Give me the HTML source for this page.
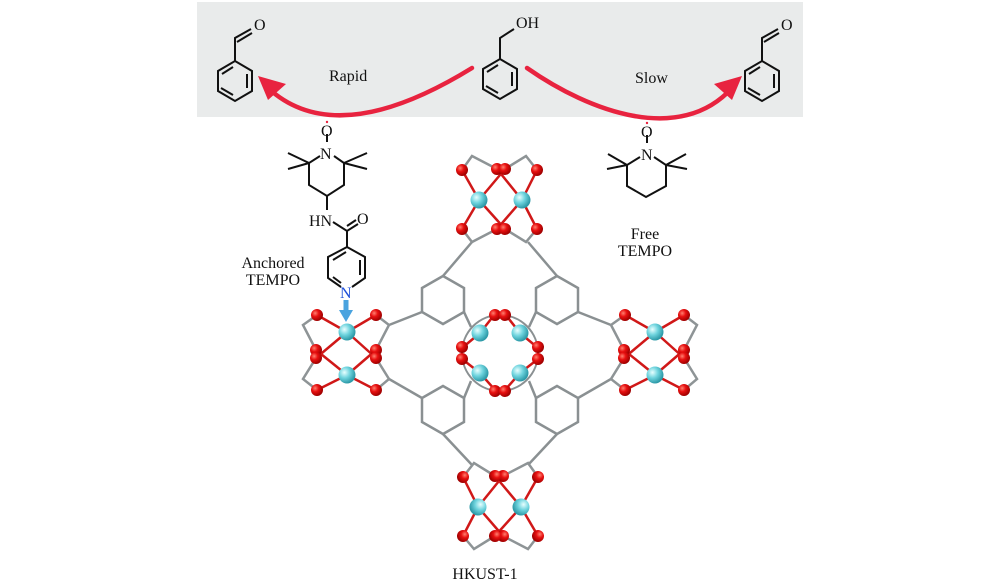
<!DOCTYPE html>
<html><head><meta charset="utf-8"><style>
html,body{margin:0;padding:0;background:#fff;}
svg, svg text{font-family:"Liberation Serif","Times New Roman",serif;}
svg{display:block;}
</style></head><body>
<svg width="1000" height="583" viewBox="0 0 1000 583" xmlns="http://www.w3.org/2000/svg" font-family="Liberation Serif, serif">
<defs>
<radialGradient id="rO" cx="35%" cy="35%" r="65%"><stop offset="0" stop-color="#ff8070"/><stop offset="0.45" stop-color="#e81010"/><stop offset="1" stop-color="#a00000"/></radialGradient>
<radialGradient id="rC" cx="35%" cy="35%" r="65%"><stop offset="0" stop-color="#e8ffff"/><stop offset="0.5" stop-color="#6fd4de"/><stop offset="1" stop-color="#2e9aa8"/></radialGradient>
<g id="pw">
  <g stroke="#8e9496" stroke-width="2.5" fill="none">
    <polyline points="-30,-38 -44,-28 -31,-3"/>
    <polyline points="-31,5 -44,26 -30,37"/>
    <polyline points="29,-38 42,-28 29,-3"/>
    <polyline points="29,5 42,26 29,37"/>
  </g>
  <g stroke="#d01818" stroke-width="2.5">
    <line x1="0" y1="-21" x2="-30" y2="-38"/><line x1="0" y1="-21" x2="29" y2="-38"/>
    <line x1="0" y1="-21" x2="-31" y2="5"/><line x1="0" y1="-21" x2="29" y2="5"/>
    <line x1="0" y1="22" x2="-30" y2="37"/><line x1="0" y1="22" x2="29" y2="37"/>
    <line x1="0" y1="22" x2="-31" y2="-3"/><line x1="0" y1="22" x2="29" y2="-3"/>
  </g>
  <g fill="url(#rO)">
    <circle cx="-30" cy="-38" r="6"/><circle cx="29" cy="-38" r="6"/>
    <circle cx="-31" cy="-3" r="6"/><circle cx="-31" cy="5" r="6"/>
    <circle cx="29" cy="-3" r="6"/><circle cx="29" cy="5" r="6"/>
    <circle cx="-30" cy="37" r="6"/><circle cx="29" cy="37" r="6"/>
  </g>
  <g fill="url(#rC)"><circle cx="0" cy="-21" r="8.5"/><circle cx="0" cy="22" r="8.5"/></g>
</g>
</defs>

<rect x="197" y="2" width="606" height="115" fill="#e9ebeb"/>

<g stroke="#111" stroke-width="2" fill="none">
  <polygon points="235,61 252,71 252,91 235,101 218,91 218,71"/>
  <line x1="247" y1="74" x2="247" y2="88"/><line x1="222" y1="74" x2="233" y2="67"/><line x1="233" y1="95" x2="221" y2="88"/>
  <polyline points="235,61 235,38 251,29"/><line x1="237" y1="42" x2="252" y2="33"/>
  <polygon points="500,59 517,69 517,89 500,99 483,89 483,69"/>
  <line x1="512" y1="72" x2="512" y2="86"/><line x1="487" y1="72" x2="498" y2="65"/><line x1="498" y1="93" x2="486" y2="86"/>
  <polyline points="500,59 500,38 514,29"/>
  <polygon points="762,61 779,71 779,91 762,101 745,91 745,71"/>
  <line x1="774" y1="74" x2="774" y2="88"/><line x1="749" y1="74" x2="760" y2="67"/><line x1="760" y1="95" x2="748" y2="88"/>
  <polyline points="762,61 762,38 778,29"/><line x1="764" y1="42" x2="779" y2="33"/>
</g>
<g font-size="16" fill="#111" font-family="Liberation Serif, serif">
  <text x="254" y="30">O</text>
  <text x="516" y="28">OH</text>
  <text x="781" y="30">O</text>
  <text x="329" y="81">Rapid</text>
  <text x="635" y="83">Slow</text>
</g>

<g stroke="#e8233f" stroke-width="4.5" fill="none" stroke-linecap="round">
  <path d="M472,68 C420,100 330,145 268,88"/>
  <path d="M527,68 C590,112 680,145 732,88"/>
</g>
<polygon points="258,76 286,84 268,100" fill="#e8233f"/>
<polygon points="742,76 714,84 732,100" fill="#e8233f"/>

<g stroke="#111" stroke-width="2" fill="none">
  <line x1="327" y1="134" x2="327" y2="142"/>
  <polyline points="320,156 309,163 309,185 327,196 344,185 344,163 334,156"/>
  <line x1="309" y1="163" x2="288" y2="153"/><line x1="309" y1="163" x2="288" y2="169"/>
  <line x1="344" y1="163" x2="367" y2="153"/><line x1="344" y1="163" x2="367" y2="169"/>
  <line x1="327" y1="196" x2="327" y2="210"/>
  <polyline points="333,222 347,231 358,224"/><line x1="347" y1="226" x2="356" y2="220"/>
  <line x1="347" y1="231" x2="347" y2="247"/>
  <polyline points="347,247 365,257 365,278 352,287"/>
  <polyline points="341,287 328,278 328,257 347,247"/>
  <line x1="360" y1="260" x2="360" y2="275"/><line x1="333" y1="260" x2="346" y2="252"/><line x1="333" y1="277" x2="341" y2="283"/>
</g>
<g font-size="16" fill="#111" font-family="Liberation Serif, serif">
  <text x="321" y="136">O</text>
  <text x="320" y="159">N</text>
  <text x="309" y="226">HN</text>
  <text x="357" y="224">O</text>
  <text x="273" y="268" text-anchor="middle">Anchored</text>
  <text x="273" y="285" text-anchor="middle">TEMPO</text>
</g>
<circle cx="327" cy="122" r="1.2" fill="#e8233f"/>
<text x="340" y="298" font-size="16" fill="#1e4fd8" font-family="Liberation Serif, serif">N</text>
<g fill="#4aa3df"><rect x="343.5" y="300" width="5" height="12"/><polygon points="339,310 353,310 346,322"/></g>

<g stroke="#111" stroke-width="2" fill="none">
  <line x1="647" y1="135" x2="647" y2="143"/>
  <polyline points="640,157 627,165 627,186 646,197 666,186 666,165 654,157"/>
  <line x1="627" y1="165" x2="608" y2="154"/><line x1="627" y1="165" x2="607" y2="169"/>
  <line x1="666" y1="165" x2="686" y2="154"/><line x1="666" y1="165" x2="687" y2="169"/>
</g>
<g font-size="16" fill="#111" font-family="Liberation Serif, serif">
  <text x="641" y="137">O</text>
  <text x="641" y="160">N</text>
  <text x="645" y="239" text-anchor="middle">Free</text>
  <text x="645" y="256" text-anchor="middle">TEMPO</text>
</g>
<circle cx="647" cy="123" r="1.2" fill="#e8233f"/>

<g stroke="#8a9092" stroke-width="2.5" fill="none">
  <polygon points="443,276 464,288 464,312 443,324 422,312 422,288"/>
  <polygon points="557,276 578,288 578,312 557,324 536,312 536,288"/>
  <polygon points="443,386 464,398 464,422 443,434 422,422 422,398"/>
  <polygon points="557,386 578,398 578,422 557,434 536,422 536,398"/>
  <line x1="443" y1="276" x2="472" y2="242"/><line x1="422" y1="312" x2="389" y2="325"/><line x1="464" y1="312" x2="471" y2="327"/>
  <line x1="557" y1="276" x2="528" y2="242"/><line x1="578" y1="312" x2="611" y2="325"/><line x1="536" y1="312" x2="529" y2="327"/>
  <line x1="443" y1="434" x2="472" y2="465"/><line x1="422" y1="398" x2="389" y2="379"/><line x1="464" y1="398" x2="471" y2="381"/>
  <line x1="557" y1="434" x2="528" y2="465"/><line x1="578" y1="398" x2="611" y2="379"/><line x1="536" y1="398" x2="529" y2="381"/>
</g>

<use href="#pw" transform="translate(347,353)"/>
<use href="#pw" transform="translate(655,353)"/>
<use href="#pw" transform="matrix(0,1,1,0,500,200)"/>
<use href="#pw" transform="matrix(0,1,-1,0,500,507)"/>

<circle cx="500" cy="353" r="38" fill="none" stroke="#8a9092" stroke-width="2"/>
<g stroke="#d01818" stroke-width="2.5">
  <line x1="480" y1="333" x2="495" y2="314"/><line x1="480" y1="333" x2="462" y2="348"/>
  <line x1="520" y1="333" x2="505" y2="314"/><line x1="520" y1="333" x2="538" y2="348"/>
  <line x1="480" y1="373" x2="495" y2="390"/><line x1="480" y1="373" x2="462" y2="359"/>
  <line x1="520" y1="373" x2="505" y2="390"/><line x1="520" y1="373" x2="538" y2="359"/>
</g>
<g fill="url(#rO)">
  <circle cx="495" cy="315" r="6"/><circle cx="505" cy="315" r="6"/>
  <circle cx="495" cy="391" r="6"/><circle cx="505" cy="391" r="6"/>
  <circle cx="462" cy="347" r="6"/><circle cx="462" cy="359" r="6"/>
  <circle cx="538" cy="347" r="6"/><circle cx="538" cy="359" r="6"/>
</g>
<g fill="url(#rC)">
  <circle cx="480" cy="333" r="8.5"/><circle cx="520" cy="333" r="8.5"/>
  <circle cx="480" cy="373" r="8.5"/><circle cx="520" cy="373" r="8.5"/>
</g>

<text x="485" y="579" font-size="16" fill="#111" text-anchor="middle" font-family="Liberation Serif, serif">HKUST-1</text>
</svg>
</body></html>
